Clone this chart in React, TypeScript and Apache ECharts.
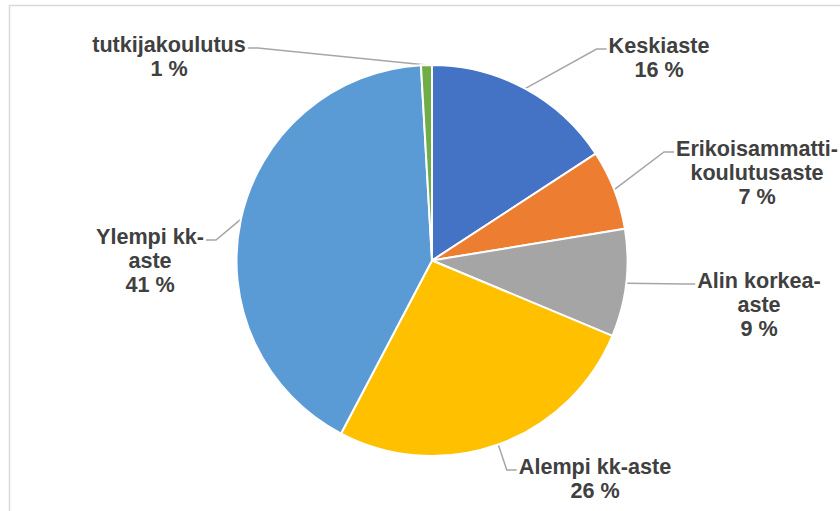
import React, { useEffect, useRef } from "react";
import * as echarts from "echarts";

const categories = [
  "Keskiaste",
  "Erikoisammatti-\nkoulutusaste",
  "Alin korkea-\naste",
  "Alempi kk-aste",
  "Ylempi kk-\naste",
  "tutkijakoulutus",
];
const values = [15.8, 6.6, 8.9, 26.4, 41.4, 0.9];
const colors = ["#4472C4", "#ED7D31", "#A5A5A5", "#FFC000", "#5B9BD5", "#70AD47"];

// label block centres (layout only) and which side faces the pie
const labelPos: { x: number; y: number; side: "left" | "right" }[] = [
  { x: 659, y: 57, side: "right" },
  { x: 757, y: 172, side: "right" },
  { x: 759, y: 304, side: "right" },
  { x: 595, y: 478, side: "right" },
  { x: 150, y: 260, side: "left" },
  { x: 169, y: 56, side: "left" },
];

const LINE_H = 24;

export default function App() {
  const ref = useRef<HTMLDivElement>(null);
  useEffect(() => {
    if (!ref.current) return;
    const chart = echarts.init(ref.current, null, { renderer: "svg" });
    chart.setOption({
      animation: false,
      backgroundColor: "#ffffff",
      graphic: [
        {
          type: "rect",
          shape: { x: 9.5, y: 5.5, width: 840, height: 520 },
          style: { fill: "none", stroke: "#d9d9d9", lineWidth: 1.5 },
          silent: true,
        },
      ],
      series: [
        {
          type: "pie",
          center: [432, 260.5],
          radius: 195.5,
          startAngle: 90,
          clockwise: true,
          avoidLabelOverlap: false,
          minShowLabelAngle: 0,
          itemStyle: { borderColor: "#ffffff", borderWidth: 2 },
          label: {
            show: true,
            position: "outside",
            fontFamily: "Liberation Sans, Arial, sans-serif",
            fontWeight: "bold",
            fontSize: 21.6,
            lineHeight: LINE_H,
            color: "#404040",
            align: "center",
            formatter: (p: any) => `${p.name}\n${Math.round(p.value)} %`,
          },
          labelLine: {
            show: true,
            length: 20,
            length2: 10,
            lineStyle: { color: "#a6a6a6", width: 1.5 },
          },
          labelLayout: (params: any) => {
            const p = labelPos[params.dataIndex];
            const w = params.labelRect.width;
            const h = params.labelRect.height;
            const left = p.x - w / 2;
            const right = p.x + w / 2;
            const top = p.y - h / 2;
            const lineY = top + LINE_H / 2 + 4;
            const anchor = params.labelLinePoints[0];
            const endX = p.side === "right" ? left - 2 : right + 2;
            const elbowX = p.side === "right" ? endX - 10 : endX + 10;
            return {
              x: p.x,
              y: p.y,
              align: "center",
              verticalAlign: "middle",
              labelLinePoints: [
                [anchor[0], anchor[1]],
                [elbowX, lineY],
                [endX, lineY],
              ],
            };
          },
          data: categories.map((name, i) => ({
            name,
            value: values[i],
            itemStyle: { color: colors[i] },
          })),
        },
      ],
    });
    return () => chart.dispose();
  }, []);
  return (
    <div
      ref={ref}
      style={{ position: "fixed", left: 0, top: 0, width: 840, height: 511 }}
    />
  );
}
